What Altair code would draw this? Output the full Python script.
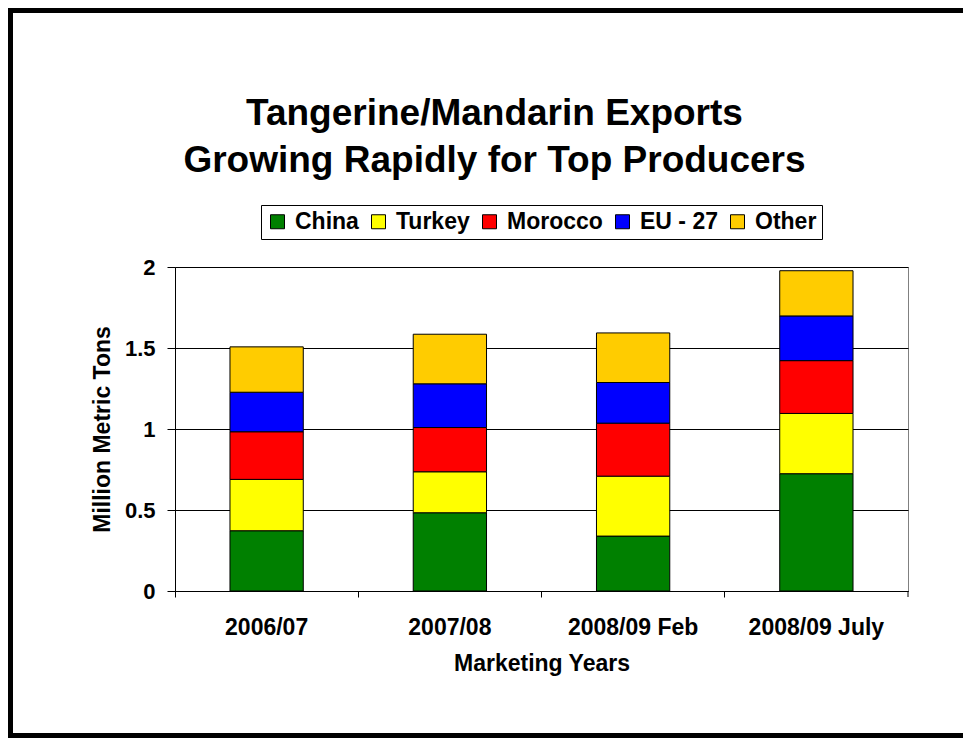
import altair as alt
import pandas as pd

years = ["2006/07", "2007/08", "2008/09 Feb", "2008/09 July"]
regions = ["China", "Turkey", "Morocco", "EU - 27", "Other"]
colors = ["#008000", "#FFFF00", "#FF0000", "#0000FF", "#FFCC00"]

china = [0.372, 0.483, 0.339, 0.724]
turkey = [0.317, 0.253, 0.370, 0.372]
morocco = [0.294, 0.273, 0.327, 0.326]
eu27 = [0.244, 0.270, 0.251, 0.276]
other = [0.280, 0.306, 0.306, 0.279]

series = [china, turkey, morocco, eu27, other]
rows = []
for i, (name, vals) in enumerate(zip(regions, series)):
    for y, v in zip(years, vals):
        rows.append({"year": y, "region": name, "value": v, "idx": i})
df = pd.DataFrame(rows)

FONT = "Liberation Sans"
W, H = 733, 324
PL, PT = 167, 259
TOTW, TOTH = 955, 730

bars = alt.Chart(df).mark_bar(stroke="black", strokeWidth=1).encode(
    x=alt.X("year:N", sort=years,
            scale=alt.Scale(paddingInner=0.6, paddingOuter=0.3),
            axis=alt.Axis(title="Marketing Years", labelAngle=0, bandPosition=-0.75,
                          tickSize=6, tickColor="black", domainColor="black",
                          labelPadding=19, labelFontSize=23, labelFont=FONT,
                          labelFontWeight="bold", labelColor="black",
                          titleFontSize=23, titleFont=FONT, titleFontWeight="bold",
                          titleColor="black", titlePadding=13, grid=False)),
    y=alt.Y("value:Q", stack="zero",
            scale=alt.Scale(domain=[0, 2], nice=False),
            axis=alt.Axis(title="Million Metric Tons", values=[0, 0.5, 1, 1.5, 2],
                          format="~g",
                          tickSize=8, tickColor="black", domainColor="black",
                          labelPadding=12, labelFontSize=22, labelFont=FONT,
                          labelFontWeight="bold", labelColor="black",
                          titleFontSize=23, titleFont=FONT, titleFontWeight="bold",
                          titleColor="black", titlePadding=10,
                          grid=True, gridColor="black", gridOpacity=1, gridWidth=1)),
    color=alt.Color("region:N", sort=regions,
                    scale=alt.Scale(domain=regions, range=colors),
                    legend=alt.Legend(title=None, orient="none", legendX=86, legendY=-62,
                                      direction="horizontal", symbolType="square",
                                      symbolSize=196, symbolStrokeColor="black",
                                      symbolStrokeWidth=1, labelFontSize=23,
                                      labelFont=FONT, labelFontWeight="bold",
                                      labelColor="black", labelOffset=6,
                                      columnPadding=8, padding=5,
                                      strokeColor="black", fillColor="white")),
    order=alt.Order("idx:Q", sort="ascending"),
)

frame_df = pd.DataFrame({"k": [0]})
frame = alt.Chart(frame_df).mark_rect(filled=False, stroke="black", strokeWidth=5).encode(
    x=alt.value(-PL + 2.5), x2=alt.value(TOTW - PL + 20),
    y=alt.value(-PT + 2.5), y2=alt.value(TOTH - PT - 2.5),
)
last_tick = alt.Chart(frame_df).mark_rule(color="black").encode(
    x=alt.value(W), y=alt.value(H), y2=alt.value(H + 6),
)

chart = alt.layer(bars, last_tick, frame).properties(
    width=W, height=H,
    title=alt.TitleParams(
        text=["Tangerine/Mandarin Exports", "Growing Rapidly for Top Producers"],
        fontSize=37, font=FONT, fontWeight="bold", color="black",
        anchor="middle", lineHeight=47, offset=-172, dx=-47,
    ),
    autosize=alt.AutoSizeParams(type="none"),
    padding={"left": PL, "top": PT, "right": TOTW - PL - W, "bottom": TOTH - PT - H},
    background="white",
).configure_view(stroke="#808080", strokeWidth=1)

chart.save("out.html", embed_options={"renderer": "svg", "actions": False})
